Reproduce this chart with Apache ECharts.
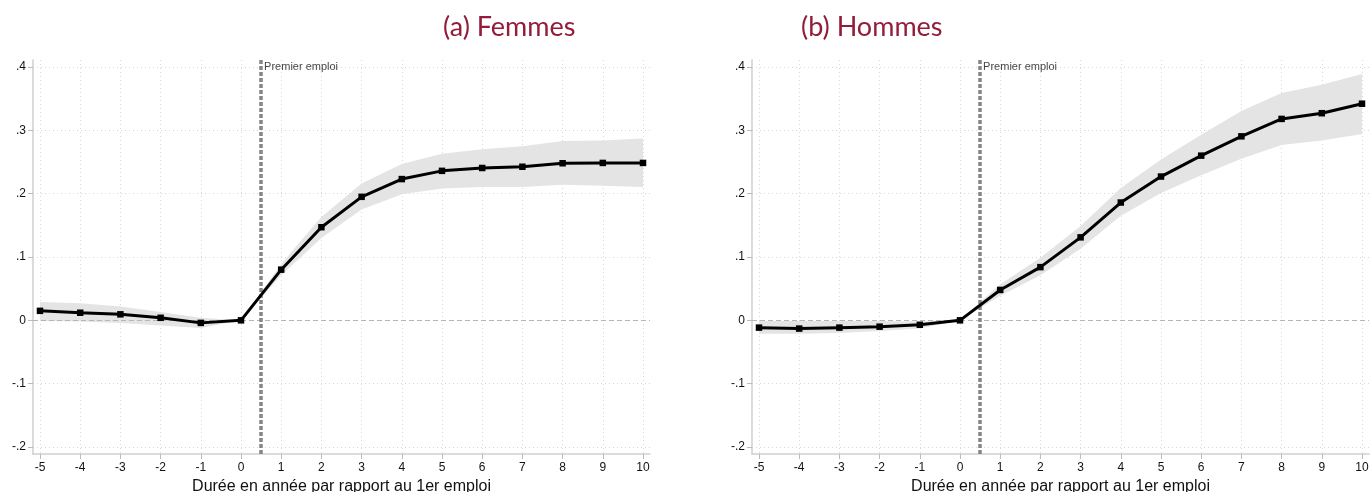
<!DOCTYPE html>
<html>
<head>
<meta charset="utf-8">
<script src="https://cdn.jsdelivr.net/npm/echarts@6/dist/echarts.min.js"></script>
<style>
html,body{margin:0;padding:0;background:#fff;}
#chart{width:1371px;height:492px;}
</style>
</head>
<body>
<div id="chart"></div>
<script>
// ---- data ----
const years = [-5,-4,-3,-2,-1,0,1,2,3,4,5,6,7,8,9,10];
const yTicks = [-0.2,-0.1,0,0.1,0.2,0.3,0.4];
const panelTitles = ['(a) Femmes', '(b) Hommes'];
const xAxisTitle = 'Durée en année par rapport au 1er emploi';
const markerX = 0.5;
const markerLabel = 'Premier emploi';

const femmesCoef  = [0.015,0.012,0.0095,0.004,-0.004,0,0.080,0.147,0.195,0.223,0.236,0.2405,0.2425,0.248,0.2485,0.2485];
const femmesUpper = [0.029,0.027,0.022,0.013,0.004,0,0.089,0.163,0.216,0.247,0.263,0.270,0.275,0.283,0.284,0.287];
const femmesLower = [-0.001,-0.002,-0.004,-0.008,-0.012,0,0.071,0.130,0.175,0.199,0.208,0.2105,0.2105,0.214,0.2125,0.2105];

const hommesCoef  = [-0.0115,-0.013,-0.0115,-0.010,-0.007,0,0.048,0.084,0.131,0.186,0.227,0.260,0.2905,0.318,0.327,0.342];
const hommesUpper = [-0.001,-0.001,-0.001,-0.001,-0.002,0,0.057,0.099,0.149,0.209,0.254,0.293,0.3305,0.359,0.372,0.389];
const hommesLower = [-0.021,-0.021,-0.020,-0.017,-0.013,0,0.039,0.071,0.113,0.165,0.201,0.229,0.255,0.277,0.284,0.294];

// ---- build ----
const chart = echarts.init(document.getElementById('chart'));
const grids = [
  {left:33, top:60, width:617, height:394, outerBoundsMode:'none', containLabel:false},
  {left:752, top:60, width:617, height:394, outerBoundsMode:'none', containLabel:false}
];
const fmtY = v => {
  const r = Math.round(v*10)/10;
  if (r === 0) return '0';
  return (r < 0 ? '-' : '') + String(Math.abs(r)).replace(/^0/, '');
};
const xAxes = [], yAxes = [], series = [];
const panels = [
  {coef: femmesCoef, up: femmesUpper, lo: femmesLower},
  {coef: hommesCoef, up: hommesUpper, lo: hommesLower}
];
panels.forEach((p, i) => {
  xAxes.push({
    type:'value', gridIndex:i, min:-5.174, max:10.174,
    name: xAxisTitle, nameLocation:'middle', nameGap:22,
    nameTextStyle:{fontFamily:'Liberation Sans', fontSize:16, color:'#111'},
    axisLine:{show:true, onZero:false, lineStyle:{color:'#cfcfcf', width:1.5}},
    axisTick:{show:true, length:5, lineStyle:{color:'#bbb'}, customValues: years},
    axisLabel:{customValues: years, margin:8, fontFamily:'Liberation Sans', fontSize:12, color:'#111'},
    splitLine:{show:true, lineStyle:{color:'#d8d8d8', type:[1,3], width:1}}
  });
  yAxes.push({
    type:'value', gridIndex:i, min:-0.211, max:0.411,
    axisLine:{show:true, onZero:false, lineStyle:{color:'#cfcfcf', width:1.5}},
    axisTick:{show:true, length:5, lineStyle:{color:'#bbb'}, customValues: yTicks},
    axisLabel:{customValues: yTicks, margin:7, fontFamily:'Liberation Sans', fontSize:12, color:'#111', formatter: fmtY},
    splitLine:{show:true, lineStyle:{color:'#d8d8d8', type:[1,3], width:1}}
  });
  // confidence band as polygon through the axes' scales
  series.push({
    type:'custom', xAxisIndex:i, yAxisIndex:i, silent:true, z:1,
    data: years.map((x,k)=>[x, p.lo[k], p.up[k]]),
    encode:{x:0, y:[1,2]},
    renderItem: (params, api) => {
      if (params.dataIndex !== 0) return;
      const pts = [];
      years.forEach((x,k)=>pts.push(api.coord([x, p.up[k]])));
      for (let k = years.length-1; k >= 0; k--) pts.push(api.coord([years[k], p.lo[k]]));
      return {type:'polygon', shape:{points:pts}, style:{fill:'#e4e4e4', stroke:'none'}};
    }
  });
  // zero line and first-job marker
  series.push({
    type:'line', xAxisIndex:i, yAxisIndex:i, data:[], silent:true, z:2,
    markLine:{
      silent:true, symbol:'none', animation:false,
      label:{show:false},
      data:[
        {yAxis:0, lineStyle:{color:'#b5b5b5', type:[5,3], width:1}},
        {xAxis:markerX, lineStyle:{color:'#858585', type:[4,2], width:3.5}}
      ]
    }
  });
  series.push({
    type:'line', xAxisIndex:i, yAxisIndex:i,
    data: years.map((x,k)=>[x, p.coef[k]]),
    symbol:'rect', symbolSize:6.5, showSymbol:true,
    itemStyle:{color:'#000'}, lineStyle:{color:'#000', width:3}, z:5
  });
  series.push({
    type:'scatter', xAxisIndex:i, yAxisIndex:i,
    data:[[markerX, 0.4]], symbolSize:0, silent:true, z:6,
    label:{show:true, position:'right', distance:3, formatter: markerLabel,
      fontFamily:'Liberation Sans', fontSize:11, color:'#111'}
  });
});

chart.setOption({
  animation:false,
  backgroundColor:'#fff',
  title:[
    {text: panelTitles[0], left:438, top:9, textStyle:{fontFamily:'Lato', fontSize:27, fontWeight:'normal', color:'#931c3b'}},
    {text: panelTitles[1], left:796, top:9, textStyle:{fontFamily:'Lato', fontSize:27, fontWeight:'normal', color:'#931c3b'}}
  ],
  grid: grids,
  xAxis: xAxes,
  yAxis: yAxes,
  series: series
});
</script>
</body>
</html>
